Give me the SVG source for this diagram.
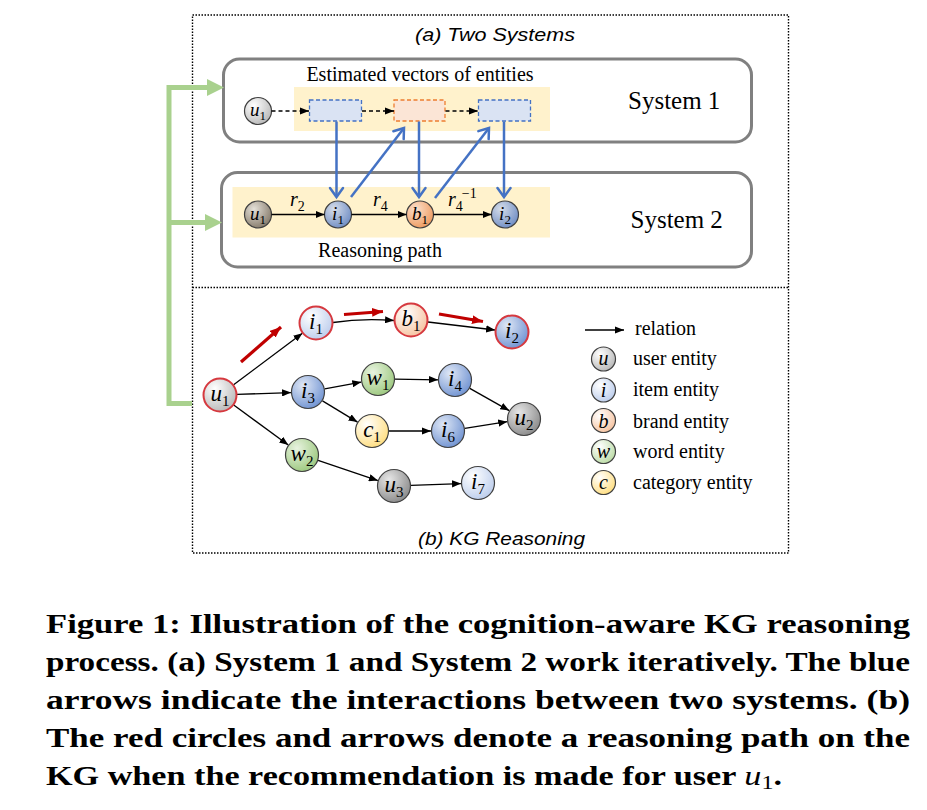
<svg xmlns="http://www.w3.org/2000/svg" width="927" height="810" viewBox="0 0 927 810">
<style>
  .serif { font-family: "Liberation Serif", "Times New Roman", serif; }
  .sans { font-family: "Liberation Sans", Arial, sans-serif; }
  .title { font-family: "Liberation Sans", Arial, sans-serif; font-style: italic; font-size: 19px; fill: #000; }
  .lab { font-family: "Liberation Serif", serif; font-size: 20px; fill: #000; }
  .sys { font-family: "Liberation Serif", serif; font-size: 25px; fill: #000; }
  .math { font-family: "Liberation Serif", serif; font-style: italic; fill: #000; }
  .sub { font-style: normal; }
  .cap { font-family: "Liberation Serif", "Times New Roman", serif; font-weight: bold; font-size: 27px; fill: #000; }
  .node { stroke: #404040; stroke-width: 1.2; }
  .rnode { stroke: #d6393f; stroke-width: 2; }
  .edge { stroke: #000; stroke-width: 1.3; fill: none; marker-end: url(#ab); }
  .dedge { stroke: #000; stroke-width: 1.3; fill: none; stroke-dasharray: 4 3; marker-end: url(#ab); }
  .red { stroke: #c00000; stroke-width: 3.2; fill: none; marker-end: url(#ar); }
  .blue { stroke: #4472c4; stroke-width: 2.5; fill: none; marker-end: url(#abl); }
  .green { stroke: #a9d18e; stroke-width: 5; fill: none; }
  .box { fill: #fff; stroke: #808080; stroke-width: 3; }
  .band { fill: #fff2cc; }
  .dot { fill: none; stroke: #000; stroke-width: 1.4; stroke-dasharray: 1.5 1.5; }
</style>
<defs>
  <marker id="ab" markerUnits="userSpaceOnUse" viewBox="0 0 10 8" refX="10" refY="4" markerWidth="9" markerHeight="7.2" orient="auto">
    <path d="M0,0 L10,4 L0,8 z" fill="#000"/>
  </marker>
  <marker id="ar" markerUnits="userSpaceOnUse" viewBox="0 0 10 8" refX="10" refY="4" markerWidth="11" markerHeight="8.8" orient="auto">
    <path d="M0,0 L10,4 L0,8 z" fill="#c00000"/>
  </marker>
  <marker id="abl" markerUnits="userSpaceOnUse" viewBox="0 0 12 16" refX="10.5" refY="8" markerWidth="12" markerHeight="16" orient="auto" overflow="visible">
    <path d="M1.5,1.5 L10.5,8 L1.5,14.5" fill="none" stroke="#4472c4" stroke-width="2.5" stroke-linecap="round" stroke-linejoin="miter"/>
  </marker>
  <marker id="ag" markerUnits="userSpaceOnUse" viewBox="0 0 17 17" refX="0" refY="8.5" markerWidth="17" markerHeight="17" orient="auto">
    <path d="M0,0 L17,8.5 L0,17 z" fill="#a9d18e"/>
  </marker>
  <radialGradient id="gGray" cx="35%" cy="30%" r="75%"><stop offset="0" stop-color="#ffffff"/><stop offset="1" stop-color="#b8b8b8"/></radialGradient>
  <radialGradient id="gGrayD" cx="35%" cy="30%" r="75%"><stop offset="0" stop-color="#e6e6e6"/><stop offset="1" stop-color="#8a8a8a"/></radialGradient>
  <radialGradient id="gBrown" cx="35%" cy="30%" r="75%"><stop offset="0" stop-color="#e4e0d8"/><stop offset="1" stop-color="#857a6a"/></radialGradient>
  <radialGradient id="gBlue" cx="35%" cy="30%" r="75%"><stop offset="0" stop-color="#dfe7f5"/><stop offset="1" stop-color="#7093d2"/></radialGradient>
  <radialGradient id="gBlueG" cx="35%" cy="30%" r="75%"><stop offset="0" stop-color="#d6dde9"/><stop offset="1" stop-color="#6f8dc4"/></radialGradient>
  <radialGradient id="gBlueL" cx="35%" cy="30%" r="75%"><stop offset="0" stop-color="#ffffff"/><stop offset="1" stop-color="#bccdec"/></radialGradient>
  <radialGradient id="gOrL" cx="35%" cy="30%" r="75%"><stop offset="0" stop-color="#ffffff"/><stop offset="1" stop-color="#f6c3a0"/></radialGradient>
  <radialGradient id="gOr" cx="35%" cy="30%" r="75%"><stop offset="0" stop-color="#fbe0cc"/><stop offset="1" stop-color="#ee9a5e"/></radialGradient>
  <radialGradient id="gGreen" cx="35%" cy="30%" r="75%"><stop offset="0" stop-color="#e8f3e0"/><stop offset="1" stop-color="#9cc87e"/></radialGradient>
  <radialGradient id="gGreenL" cx="35%" cy="30%" r="75%"><stop offset="0" stop-color="#ffffff"/><stop offset="1" stop-color="#bcdca6"/></radialGradient>
  <radialGradient id="gYel" cx="35%" cy="30%" r="75%"><stop offset="0" stop-color="#ffffff"/><stop offset="1" stop-color="#ffde80"/></radialGradient>
</defs>

<rect width="927" height="810" fill="#fff"/>

<g id="frame">
  <rect class="dot" x="192.5" y="15" width="596" height="538"/>
  <line class="dot" x1="192.5" y1="287.5" x2="788.5" y2="287.5"/>
  <text class="title" x="415" y="41" textLength="160" lengthAdjust="spacingAndGlyphs">(a) Two Systems</text>
  <text class="title" x="418" y="545" textLength="167" lengthAdjust="spacingAndGlyphs">(b) KG Reasoning</text>
</g>

<g id="system1">
  <rect class="box" x="223.5" y="59" width="528" height="83" rx="16"/>
  <rect class="band" x="294" y="87" width="256" height="44"/>
  <text class="lab" x="420" y="81" text-anchor="middle">Estimated vectors of entities</text>
  <text class="sys" x="628" y="109">System 1</text>
  <rect x="309.5" y="100" width="52" height="21" fill="#dae3f3" stroke="#4472c4" stroke-width="1.3" stroke-dasharray="4 2.5"/>
  <rect x="394" y="100" width="51" height="21" fill="#fbe5d6" stroke="#ed7d31" stroke-width="1.3" stroke-dasharray="4 2.5"/>
  <rect x="478.5" y="100" width="52" height="21" fill="#dae3f3" stroke="#4472c4" stroke-width="1.3" stroke-dasharray="4 2.5"/>
  <g id="s1-u1">
    <circle class="node" cx="258" cy="111" r="13.5" fill="url(#gGray)"/>
    <text class="math" x="258" y="116" text-anchor="middle" font-size="19">u<tspan class="sub" font-size="13" dy="4">1</tspan></text>
  </g>
</g>

<g id="system2">
  <rect class="box" x="221.5" y="172.5" width="530" height="94.5" rx="16"/>
  <rect class="band" x="232.5" y="187" width="317.5" height="50.5"/>
  <text class="lab" x="380" y="257" text-anchor="middle">Reasoning path</text>
  <text class="sys" x="630.5" y="228">System 2</text>
  <text class="math" x="290" y="206" font-size="20">r<tspan class="sub" font-size="14" dy="5">2</tspan></text>
  <text class="math" x="373" y="206" font-size="20">r<tspan class="sub" font-size="14" dy="5">4</tspan></text>
  <text class="math" x="448" y="206" font-size="20">r<tspan class="sub" font-size="14" dy="5">4</tspan><tspan class="sub" font-size="14" dx="-1" dy="-13">−1</tspan></text>
  <g id="s2-u1">
    <circle class="node" cx="258" cy="214.5" r="13.5" fill="url(#gBrown)"/>
    <text class="math" x="258" y="220" text-anchor="middle" font-size="19">u<tspan class="sub" font-size="13" dy="4">1</tspan></text>
  </g>
  <g id="s2-i1">
    <circle class="node" cx="338" cy="214.5" r="13.5" fill="url(#gBlueG)"/>
    <text class="math" x="338" y="220" text-anchor="middle" font-size="19">i<tspan class="sub" font-size="13" dy="4">1</tspan></text>
  </g>
  <g id="s2-b1">
    <circle class="node" cx="420" cy="214.5" r="13.5" fill="url(#gOr)"/>
    <text class="math" x="420" y="220" text-anchor="middle" font-size="19">b<tspan class="sub" font-size="13" dy="4">1</tspan></text>
  </g>
  <g id="s2-i2">
    <circle class="node" cx="505" cy="214.5" r="13.5" fill="url(#gBlueG)"/>
    <text class="math" x="505" y="220" text-anchor="middle" font-size="19">i<tspan class="sub" font-size="13" dy="4">2</tspan></text>
  </g>
</g>

<g id="connectors">
  <path class="green" d="M207,87.5 H169 V403.5 H192"/>
  <path class="green" d="M169,222.5 H205" marker-end="url(#ag)"/>
  <path class="green" d="M190,87.5 H207" marker-end="url(#ag)"/>
  <line class="dedge" x1="271.5" y1="111" x2="309" y2="111"/>
  <line class="dedge" x1="362" y1="111" x2="394" y2="111"/>
  <line class="dedge" x1="445.5" y1="111" x2="478" y2="111"/>
  <line class="edge" x1="271.5" y1="214.5" x2="324.5" y2="214.5"/>
  <line class="edge" x1="351.5" y1="214.5" x2="406.5" y2="214.5"/>
  <line class="edge" x1="433.5" y1="214.5" x2="491.5" y2="214.5"/>
  <line class="blue" x1="336.5" y1="121.5" x2="336.5" y2="197"/>
  <line class="blue" x1="351" y1="197" x2="404" y2="128"/>
  <line class="blue" x1="419" y1="121.5" x2="419" y2="197"/>
  <line class="blue" x1="435" y1="198" x2="489" y2="128"/>
  <line class="blue" x1="504" y1="121.5" x2="504" y2="197"/>
  <line class="edge" x1="233.6" y1="384.8" x2="302.4" y2="333.2"/>
  <path class="edge" d="M333,322.5 Q362,318 394,320.5"/>
  <line class="edge" x1="427.9" y1="322" x2="495.1" y2="330"/>
  <line class="edge" x1="237" y1="394.4" x2="291" y2="392.6"/>
  <line class="edge" x1="233.7" y1="405" x2="288.3" y2="445"/>
  <line class="edge" x1="324.7" y1="388.9" x2="361.3" y2="382.1"/>
  <line class="edge" x1="322.5" y1="400.9" x2="357.5" y2="422.1"/>
  <line class="edge" x1="395" y1="379.2" x2="438" y2="379.8"/>
  <line class="edge" x1="469.8" y1="388.4" x2="509.2" y2="410.6"/>
  <line class="edge" x1="389" y1="431" x2="431" y2="431"/>
  <line class="edge" x1="464.8" y1="428.3" x2="507.2" y2="421.7"/>
  <line class="edge" x1="318.1" y1="460.4" x2="377.9" y2="480.6"/>
  <line class="edge" x1="411" y1="485.4" x2="461" y2="483.6"/>
  <line class="red" x1="241" y1="362" x2="281" y2="327"/>
  <line class="red" x1="344" y1="314.5" x2="383" y2="311.5"/>
  <line class="red" x1="439" y1="314" x2="483" y2="321.5"/>
  <line class="edge" x1="585" y1="330" x2="624" y2="330"/>
</g>

<g id="kg-u1"><circle class="rnode" cx="220" cy="395" r="16.5" fill="url(#gGray)"/>
  <text class="math" x="220" y="401" text-anchor="middle" font-size="23">u<tspan class="sub" font-size="15" dy="5">1</tspan></text></g>
<g id="kg-i1"><circle class="rnode" cx="316" cy="323" r="16.5" fill="url(#gBlueL)"/>
  <text class="math" x="316" y="329" text-anchor="middle" font-size="23">i<tspan class="sub" font-size="15" dy="5">1</tspan></text></g>
<g id="kg-b1"><circle class="rnode" cx="411" cy="320" r="16.5" fill="url(#gOrL)"/>
  <text class="math" x="411" y="326" text-anchor="middle" font-size="23">b<tspan class="sub" font-size="15" dy="5">1</tspan></text></g>
<g id="kg-i2"><circle class="rnode" cx="512" cy="332" r="16.5" fill="url(#gBlue)"/>
  <text class="math" x="512" y="338" text-anchor="middle" font-size="23">i<tspan class="sub" font-size="15" dy="5">2</tspan></text></g>
<g id="kg-i3"><circle class="node" cx="308" cy="392" r="16.5" fill="url(#gBlue)"/>
  <text class="math" x="308" y="398" text-anchor="middle" font-size="23">i<tspan class="sub" font-size="15" dy="5">3</tspan></text></g>
<g id="kg-w1"><circle class="node" cx="378" cy="379" r="16.5" fill="url(#gGreen)"/>
  <text class="math" x="378" y="385" text-anchor="middle" font-size="23">w<tspan class="sub" font-size="15" dy="5">1</tspan></text></g>
<g id="kg-i4"><circle class="node" cx="455" cy="380" r="16.5" fill="url(#gBlue)"/>
  <text class="math" x="455" y="386" text-anchor="middle" font-size="23">i<tspan class="sub" font-size="15" dy="5">4</tspan></text></g>
<g id="kg-u2"><circle class="node" cx="524" cy="419" r="16.5" fill="url(#gGrayD)"/>
  <text class="math" x="524" y="425" text-anchor="middle" font-size="23">u<tspan class="sub" font-size="15" dy="5">2</tspan></text></g>
<g id="kg-c1"><circle class="node" cx="372" cy="431" r="16.5" fill="url(#gYel)"/>
  <text class="math" x="372" y="437" text-anchor="middle" font-size="23">c<tspan class="sub" font-size="15" dy="5">1</tspan></text></g>
<g id="kg-i6"><circle class="node" cx="448" cy="431" r="16.5" fill="url(#gBlue)"/>
  <text class="math" x="448" y="437" text-anchor="middle" font-size="23">i<tspan class="sub" font-size="15" dy="5">6</tspan></text></g>
<g id="kg-w2"><circle class="node" cx="302" cy="455" r="16.5" fill="url(#gGreen)"/>
  <text class="math" x="302" y="461" text-anchor="middle" font-size="23">w<tspan class="sub" font-size="15" dy="5">2</tspan></text></g>
<g id="kg-u3"><circle class="node" cx="394" cy="486" r="16.5" fill="url(#gGrayD)"/>
  <text class="math" x="394" y="492" text-anchor="middle" font-size="23">u<tspan class="sub" font-size="15" dy="5">3</tspan></text></g>
<g id="kg-i7"><circle class="node" cx="478" cy="483" r="16.5" fill="url(#gBlueL)"/>
  <text class="math" x="478" y="489" text-anchor="middle" font-size="23">i<tspan class="sub" font-size="15" dy="5">7</tspan></text></g>

<g id="legend">
  <text class="lab" x="635" y="335">relation</text>
  <circle class="node" cx="603.5" cy="359" r="12" fill="url(#gGray)"/>
  <text class="math" x="603.5" y="365" text-anchor="middle" font-size="20">u</text>
  <text class="lab" x="633" y="365">user entity</text>
  <circle class="node" cx="603.5" cy="390" r="12" fill="url(#gBlueL)"/>
  <text class="math" x="603.5" y="396.5" text-anchor="middle" font-size="20">i</text>
  <text class="lab" x="633" y="396">item entity</text>
  <circle class="node" cx="603.5" cy="420.5" r="12" fill="url(#gOrL)"/>
  <text class="math" x="603.5" y="427.5" text-anchor="middle" font-size="20">b</text>
  <text class="lab" x="633" y="428">brand entity</text>
  <circle class="node" cx="603.5" cy="451.5" r="12" fill="url(#gGreenL)"/>
  <text class="math" x="603.5" y="457.5" text-anchor="middle" font-size="20">w</text>
  <text class="lab" x="633" y="458">word entity</text>
  <circle class="node" cx="603.5" cy="482.5" r="12" fill="url(#gYel)"/>
  <text class="math" x="603.5" y="488.5" text-anchor="middle" font-size="20">c</text>
  <text class="lab" x="633" y="488.5">category entity</text>
</g>

<g id="caption">
  <text class="cap" x="46" y="633" textLength="864" lengthAdjust="spacingAndGlyphs">Figure 1: Illustration of the cognition-aware KG reasoning</text>
  <text class="cap" x="46" y="671" textLength="864" lengthAdjust="spacingAndGlyphs">process. (a) System 1 and System 2 work iteratively. The blue</text>
  <text class="cap" x="46" y="709" textLength="864" lengthAdjust="spacingAndGlyphs">arrows indicate the interactions between two systems. (b)</text>
  <text class="cap" x="46" y="747" textLength="864" lengthAdjust="spacingAndGlyphs">The red circles and arrows denote a reasoning path on the</text>
  <text class="cap" x="46" y="785" textLength="736" lengthAdjust="spacingAndGlyphs">KG when the recommendation is made for user <tspan font-style="italic" font-weight="normal">u</tspan><tspan font-weight="normal" font-size="19" dy="4">1</tspan><tspan dy="-4">.</tspan></text>
</g>
</svg>
